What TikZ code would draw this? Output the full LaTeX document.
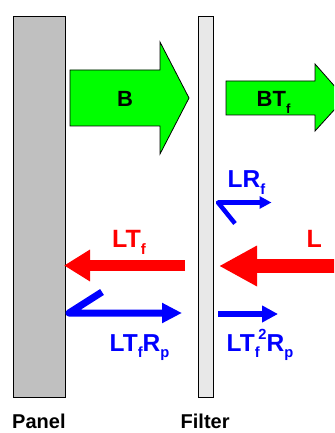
\documentclass[tikz,border=0pt]{standalone}
\usepackage{fontspec}
\setmainfont{Liberation Sans}
\usetikzlibrary{arrows.meta}

% lowered / raised indices for the symbol labels
\newcommand{\lo}[1]{\raisebox{-0.28em}{\scalebox{0.6}{#1}}}
\newcommand{\hi}[1]{\raisebox{0.45em}{\scalebox{0.6}{#1}}}

\definecolor{panelgray}{HTML}{C0C0C0}
\definecolor{filtergray}{HTML}{E8E8E8}
\definecolor{flowgreen}{HTML}{00FF00}
\definecolor{flowred}{HTML}{FF0000}
\definecolor{flowblue}{HTML}{0000FF}

\tikzset{
  slab/.style={draw=black, line width=0.9bp},
  block/.style={draw=black, line width=0.8bp, fill=flowgreen, line join=miter},
  lbl/.style={inner sep=0pt, font=\bfseries},
  redlbl/.style={lbl, text=flowred, font=\bfseries\fontsize{25bp}{25bp}\selectfont},
  bluelbl/.style={lbl, text=flowblue, font=\bfseries\fontsize{24.5bp}{25bp}\selectfont},
  greenlbl/.style={lbl, text=black, font=\bfseries\fontsize{22bp}{22bp}\selectfont},
  caption/.style={lbl, text=black, font=\bfseries\fontsize{20bp}{20bp}\selectfont},
  redflow/.style={draw=flowred, line cap=butt},
  blueflow/.style={draw=flowblue, line cap=butt, line join=round},
}

\begin{document}
\begin{tikzpicture}[x=1bp, y=-1bp]
  \useasboundingbox (0,0) rectangle (334,433);
  \clip (0,0) rectangle (334,433);

  % panel and filter slabs
  \draw[slab, fill=panelgray] (13.3,16.3) rectangle (65.7,397);
  \draw[slab, fill=filtergray] (198.5,16.3) rectangle (213.3,397);

  % block arrows of the backlight
  \draw[block] (70,70) -- (160,70) -- (160,42) -- (189,98) -- (160,154)
               -- (160,126) -- (70,126) -- cycle;
  \draw[block] (226,81) -- (315,81) -- (315,64) -- (345,98) -- (315,131)
               -- (315,115) -- (226,115) -- cycle;
  \node[greenlbl, anchor=base] (b) at (125,106.5) {B};
  \node[greenlbl, anchor=base west] (btf) at (256.5,107) {BT\lo{f}};

  % ambient light arriving and transmitted
  \coordinate (l-tail) at (345,266);
  \coordinate (l-tip) at (219,266);
  \draw[redflow, line width=14bp,
        -{Triangle[length=38bp 0 0, width=38bp 0 0]}] (l-tail) -- (l-tip);
  \coordinate (ltf-tail) at (185,265.5);
  \coordinate (ltf-tip) at (64,265.5);
  \draw[redflow, line width=11.5bp,
        -{Triangle[length=26bp 0 0, width=30bp 0 0]}] (ltf-tail) -- (ltf-tip);
  \node[redlbl, anchor=base west] (l) at (306.5,247) {L};
  \node[redlbl, anchor=base west] (ltf) at (112,247) {LT\lo{f}};

  % reflected components
  \coordinate (lrf-a) at (235,223.5);
  \coordinate (lrf-b) at (218,202.5);
  \coordinate (lrf-c) at (271.5,202.5);
  \draw[blueflow, line width=4.5bp,
        -{Triangle[length=12bp 0 0, width=12bp 0 0]}] (lrf-a) -- (lrf-b) -- (lrf-c);
  \node[bluelbl, anchor=base west] (lrf) at (227.5,188) {LR\lo{f}};

  \coordinate (ltfrp-a) at (102,292);
  \coordinate (ltfrp-b) at (69,313);
  \coordinate (ltfrp-c) at (182,313);
  \draw[blueflow, line width=7bp,
        -{Triangle[length=20bp 0 0, width=19bp 0 0]}] (ltfrp-a) -- (ltfrp-b) -- (ltfrp-c);
  \node[bluelbl, anchor=base west] (ltfrp) at (109.5,351) {LT\lo{f}R\lo{p}};

  \coordinate (ltf2rp-a) at (218,314);
  \coordinate (ltf2rp-b) at (278,314);
  \draw[blueflow, line width=6bp,
        -{Triangle[length=16bp 0 0, width=16bp 0 0]}] (ltf2rp-a) -- (ltf2rp-b);
  \node[bluelbl, anchor=base west] (ltf2rp) at (226.5,351) {LT\lo{f}\hspace{-0.05em}\hi{2}R\lo{p}};

  % captions
  \node[caption, anchor=base west] (panel) at (12,428) {Panel};
  \node[caption, anchor=base west] (filter) at (180.5,428) {Filter};
\end{tikzpicture}
\end{document}
